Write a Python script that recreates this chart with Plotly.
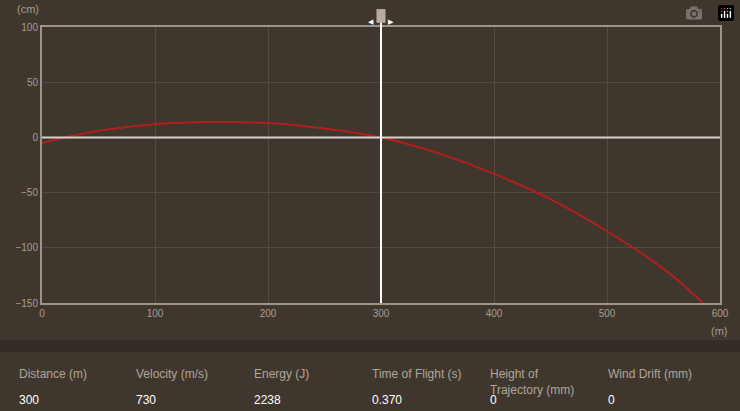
import plotly.graph_objects as go

dist = [0, 20, 50, 100, 150, 200, 250, 300, 350, 400, 450, 500, 550, 585]
drop = [-5, 0, 6, 12, 14, 13, 8, 0, -14, -33, -56, -85, -119, -150]
x_ticks = [0, 100, 200, 300, 400, 500, 600]
y_ticks = [100, 50, 0, -50, -100, -150]
info_labels = ["Distance (m)", "Velocity (m/s)", "Energy (J)", "Time of Flight (s)", "Height of<br>Trajectory (mm)", "Wind Drift (mm)"]
info_values = ["300", "730", "2238", "0.370", "0", "0"]
marker_x = 300

W, H = 740, 411
L, R, T, B = 42, 20, 27, 108
fig = go.Figure()
fig.add_trace(go.Scatter(x=dist, y=drop, mode="lines", line=dict(color="#b3201c", width=2, shape="spline"),
                         hoverinfo="skip", showlegend=False))
fig.update_layout(
    width=W, height=H, margin=dict(l=L, r=R, t=T, b=B),
    paper_bgcolor="#3f362d", plot_bgcolor="#3f362d",
    font=dict(family="Liberation Sans, Arial", color="#a89f94", size=10),
    xaxis=dict(range=[0, 600], tickvals=x_ticks, gridcolor="#544b42", zeroline=False,
               showline=True, linecolor="#a09488", linewidth=2, mirror=True, ticks="", fixedrange=True),
    yaxis=dict(range=[-150, 100], tickvals=y_ticks, gridcolor="#544b42", zeroline=False,
               showline=True, linecolor="#a09488", linewidth=2, mirror=True, ticks="", fixedrange=True),
)
fig.add_shape(type="line", xref="x", yref="y", x0=0, x1=600, y0=0, y1=0, line=dict(color="#d8d2cc", width=2))
fig.add_shape(type="line", xref="x", yref="paper", x0=marker_x, x1=marker_x, y0=0, y1=1.04, line=dict(color="#ffffff", width=2))
fig.add_shape(type="rect", xref="x", yref="paper", x0=marker_x - 4, x1=marker_x + 4, y0=1.015, y1=1.065,
              fillcolor="#b8aaa0", line=dict(width=0))
fig.add_annotation(xref="x", yref="paper", x=marker_x - 9, y=1.04, text="◀", showarrow=False, font=dict(size=7, color="#ffffff"))
fig.add_annotation(xref="x", yref="paper", x=marker_x + 9, y=1.04, text="▶", showarrow=False, font=dict(size=7, color="#ffffff"))
ph = H - T - B
def py(px):
    return (H - B - px) / ph
fig.add_shape(type="rect", xref="paper", yref="paper", x0=-L / (W - L - R), x1=1 + R / (W - L - R),
              y0=py(352), y1=py(340), fillcolor="#352d25", line=dict(width=0), layer="below")
fig.add_annotation(xref="paper", yref="paper", x=-0.04, y=py(1), text="(cm)", showarrow=False, font=dict(size=11), xanchor="left", yanchor="top")
fig.add_annotation(xref="paper", yref="paper", x=1.015, y=py(331), text="(m)", showarrow=False, font=dict(size=11), xanchor="right", yanchor="middle")
pw = W - L - R
colx = [17, 134, 252, 370, 488, 606]
for cx, lab, val in zip(colx, info_labels, info_values):
    fig.add_annotation(xref="paper", yref="paper", x=(cx - L) / pw, y=py(365), text=lab, showarrow=False,
                       xanchor="left", yanchor="top", align="left", font=dict(size=12, color="#b0a79c"))
    fig.add_annotation(xref="paper", yref="paper", x=(cx - L) / pw, y=py(400), text=val, showarrow=False,
                       xanchor="left", yanchor="middle", font=dict(size=12, color="#ffffff"))
fig.write_html("out.html", post_script="document.body.style.margin='0';document.body.style.overflow='hidden';")
